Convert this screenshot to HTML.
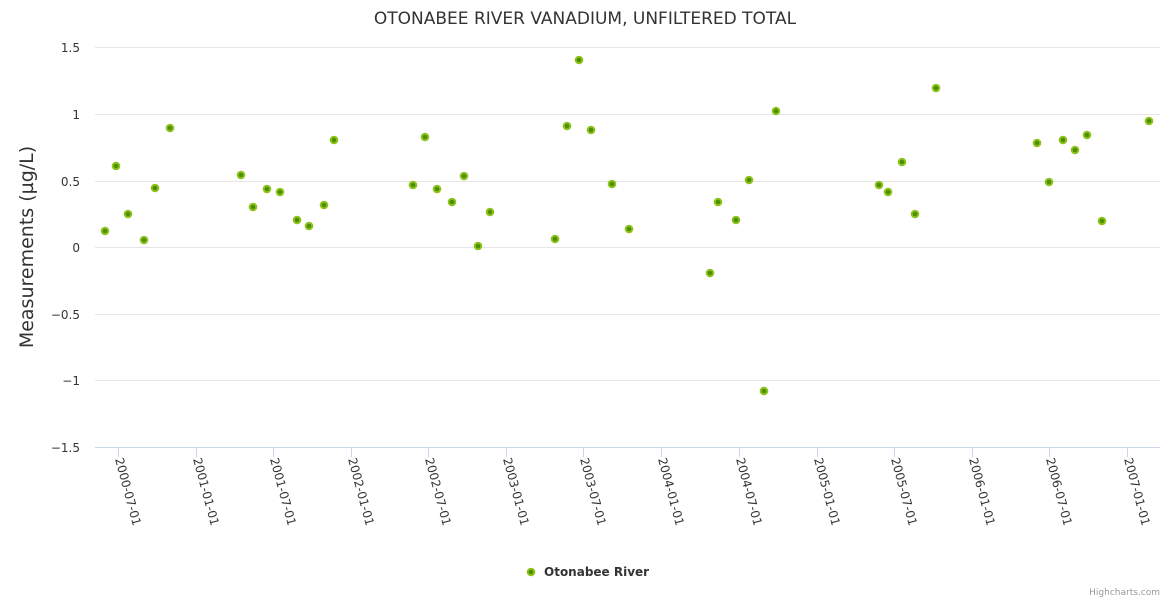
<!DOCTYPE html>
<html><head><meta charset="utf-8"><style>
html,body{margin:0;padding:0;background:#fff;}
svg text{font-family:"DejaVu Sans","Liberation Sans",sans-serif;}
</style></head><body>
<svg width="1170" height="600" viewBox="0 0 1170 600" xmlns="http://www.w3.org/2000/svg">
<rect width="1170" height="600" fill="#fff"/>
<text x="585" y="24" text-anchor="middle" font-size="17" fill="#333">OTONABEE RIVER VANADIUM, UNFILTERED TOTAL</text>
<g stroke="#e6e6e6" stroke-width="1">
<line x1="95" x2="1160" y1="47.5" y2="47.5"/>
<line x1="95" x2="1160" y1="114.5" y2="114.5"/>
<line x1="95" x2="1160" y1="181.5" y2="181.5"/>
<line x1="95" x2="1160" y1="247.5" y2="247.5"/>
<line x1="95" x2="1160" y1="314.5" y2="314.5"/>
<line x1="95" x2="1160" y1="380.5" y2="380.5"/>
</g>
<line x1="95" x2="1160" y1="447.5" y2="447.5" stroke="#ccd6eb"/>
<g font-size="12" fill="#333" text-anchor="end">
<text x="80" y="52">1.5</text>
<text x="80" y="119">1</text>
<text x="80" y="186">0.5</text>
<text x="80" y="252">0</text>
<text x="80" y="319">−0.5</text>
<text x="80" y="385">−1</text>
<text x="80" y="452">−1.5</text>
</g>
<text transform="translate(33,247) rotate(-90)" text-anchor="middle" font-size="19" fill="#333">Measurements (µg/L)</text>
<g stroke="#ccd6eb">
<line x1="118.5" x2="118.5" y1="447" y2="457"/><line x1="196.5" x2="196.5" y1="447" y2="457"/>
<line x1="273.5" x2="273.5" y1="447" y2="457"/><line x1="351.5" x2="351.5" y1="447" y2="457"/>
<line x1="428.5" x2="428.5" y1="447" y2="457"/><line x1="506.5" x2="506.5" y1="447" y2="457"/>
<line x1="583.5" x2="583.5" y1="447" y2="457"/><line x1="661.5" x2="661.5" y1="447" y2="457"/>
<line x1="739.5" x2="739.5" y1="447" y2="457"/><line x1="817.5" x2="817.5" y1="447" y2="457"/>
<line x1="894.5" x2="894.5" y1="447" y2="457"/><line x1="972.5" x2="972.5" y1="447" y2="457"/>
<line x1="1049.5" x2="1049.5" y1="447" y2="457"/><line x1="1127.5" x2="1127.5" y1="447" y2="457"/>
</g>
<g font-size="12" fill="#333">
<text transform="translate(115,459) rotate(75)">2000-07-01</text>
<text transform="translate(193,459) rotate(75)">2001-01-01</text>
<text transform="translate(270,459) rotate(75)">2001-07-01</text>
<text transform="translate(348,459) rotate(75)">2002-01-01</text>
<text transform="translate(425,459) rotate(75)">2002-07-01</text>
<text transform="translate(503,459) rotate(75)">2003-01-01</text>
<text transform="translate(580,459) rotate(75)">2003-07-01</text>
<text transform="translate(658,459) rotate(75)">2004-01-01</text>
<text transform="translate(736,459) rotate(75)">2004-07-01</text>
<text transform="translate(814,459) rotate(75)">2005-01-01</text>
<text transform="translate(891,459) rotate(75)">2005-07-01</text>
<text transform="translate(969,459) rotate(75)">2006-01-01</text>
<text transform="translate(1046,459) rotate(75)">2006-07-01</text>
<text transform="translate(1124,459) rotate(75)">2007-01-01</text>
</g>
<g fill="#4e8f00" stroke="#8cc21a" stroke-width="2">
<circle cx="105" cy="231" r="3.3"/><circle cx="116" cy="166" r="3.3"/><circle cx="128" cy="214" r="3.3"/><circle cx="144" cy="240" r="3.3"/><circle cx="155" cy="188" r="3.3"/><circle cx="170" cy="128" r="3.3"/>
<circle cx="241" cy="175" r="3.3"/><circle cx="253" cy="207" r="3.3"/><circle cx="267" cy="189" r="3.3"/><circle cx="280" cy="192" r="3.3"/><circle cx="297" cy="220" r="3.3"/><circle cx="309" cy="226" r="3.3"/><circle cx="324" cy="205" r="3.3"/><circle cx="334" cy="140" r="3.3"/>
<circle cx="413" cy="185" r="3.3"/><circle cx="425" cy="137" r="3.3"/><circle cx="437" cy="189" r="3.3"/><circle cx="452" cy="202" r="3.3"/><circle cx="464" cy="176" r="3.3"/><circle cx="478" cy="246" r="3.3"/><circle cx="490" cy="212" r="3.3"/>
<circle cx="555" cy="239" r="3.3"/><circle cx="567" cy="126" r="3.3"/><circle cx="579" cy="60" r="3.3"/><circle cx="591" cy="130" r="3.3"/><circle cx="612" cy="184" r="3.3"/><circle cx="629" cy="229" r="3.3"/>
<circle cx="710" cy="273" r="3.3"/><circle cx="718" cy="202" r="3.3"/><circle cx="736" cy="220" r="3.3"/><circle cx="749" cy="180" r="3.3"/><circle cx="764" cy="391" r="3.3"/><circle cx="776" cy="111" r="3.3"/>
<circle cx="879" cy="185" r="3.3"/><circle cx="888" cy="192" r="3.3"/><circle cx="902" cy="162" r="3.3"/><circle cx="915" cy="214" r="3.3"/><circle cx="936" cy="88" r="3.3"/>
<circle cx="1037" cy="143" r="3.3"/><circle cx="1049" cy="182" r="3.3"/><circle cx="1063" cy="140" r="3.3"/><circle cx="1075" cy="150" r="3.3"/><circle cx="1087" cy="135" r="3.3"/><circle cx="1102" cy="221" r="3.3"/><circle cx="1149" cy="121" r="3.3"/>
<circle cx="531" cy="572" r="3.3"/>
</g>
<text x="544" y="576" font-size="12" font-weight="bold" fill="#333">Otonabee River</text>
<text x="1160" y="595" text-anchor="end" font-size="9" fill="#999">Highcharts.com</text>
</svg>
</body></html>
